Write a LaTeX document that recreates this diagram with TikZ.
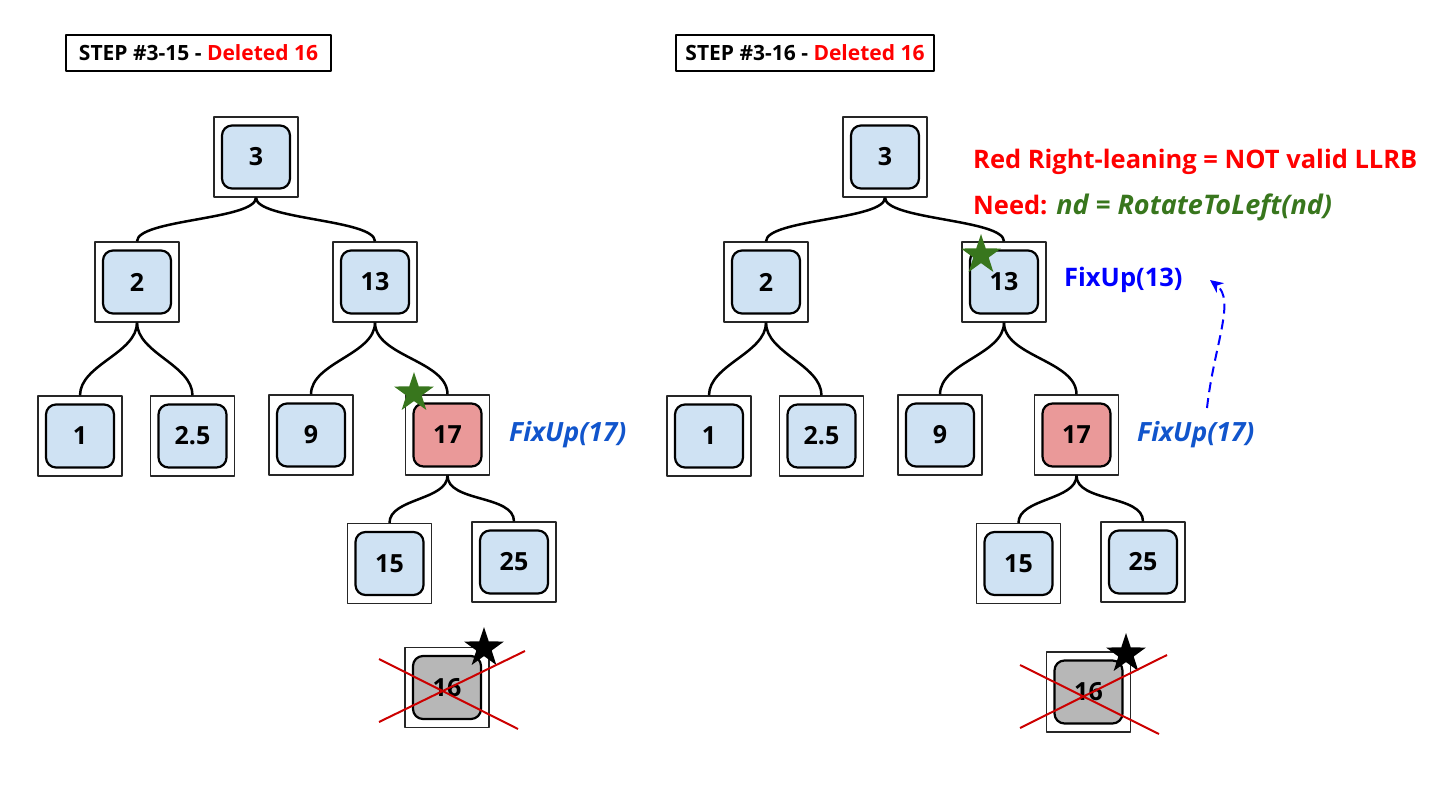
\documentclass[tikz,border=0pt]{standalone}
\usepackage{fontspec}
\setmainfont{Open Sans}
\usetikzlibrary{shapes.geometric,arrows.meta}
\definecolor{keyblue}{HTML}{CFE2F3}
\definecolor{keyred}{HTML}{EA9999}
\definecolor{keygray}{HTML}{B7B7B7}
\definecolor{delred}{HTML}{FF0000}
\definecolor{crossred}{HTML}{CC0000}
\definecolor{fixblue}{HTML}{1155CC}
\definecolor{pureblue}{HTML}{0000FF}
\definecolor{leafgreen}{HTML}{38761D}

\begin{document}
\begin{tikzpicture}[x=1pt, y=1pt, line join=round,
  frame/.style={draw=black!85, line width=1.2pt, minimum width=84pt, minimum height=80pt, inner sep=0pt},
  key/.style={draw, line width=2.2pt, rounded corners=10pt, minimum width=68pt, minimum height=63pt, inner sep=0pt, fill=keyblue, font=\bfseries\fontsize{25}{30}\selectfont},
  titlebox/.style={draw, line width=1.5pt, minimum height=36pt, inner sep=0pt, font=\bfseries\fontsize{21}{25}\selectfont},
  note/.style={anchor=west, inner sep=0pt, font=\bfseries\fontsize{25.5}{30}\selectfont},
  slanted note/.style={note, font=\bfseries\itshape\fontsize{26.5}{30}\selectfont},
  flag/.style={star, star points=5, star point ratio=2.6, inner sep=0pt, minimum size=42pt},
  every edge/.style={draw, line width=2.5pt, out=-90, in=90, looseness=.85}]
\useasboundingbox (0,0) rectangle (1438,-792);

% left tree
\node [titlebox, minimum width=265pt] (ta) at (198.5,-53) {STEP \#3-15 - \textcolor{delred}{Deleted 16}};
\node [frame] (a3) at (256,-157) {};
\node [key] (a3k) at (a3) {3};
\node [frame] (a2) at (137,-282) {};
\node [key] (a2k) at (a2) {2};
\node [frame] (a13) at (375,-282) {};
\node [key] (a13k) at (a13) {13};
\node [frame] (a1) at (80,-436) {};
\node [key] (a1k) at (a1) {1};
\node [frame] (a2p5) at (192.5,-436) {};
\node [key] (a2p5k) at (a2p5) {2.5};
\node [frame] (a9) at (311,-435) {};
\node [key] (a9k) at (a9) {9};
\node [frame] (a17) at (447.5,-435) {};
\node [key, fill=keyred] (a17k) at (a17) {17};
\node [frame] (a15) at (389.5,-563.5) {};
\node [key] (a15k) at (a15) {15};
\node [frame] (a25) at (514,-562) {};
\node [key] (a25k) at (a25) {25};
\node [frame] (a16) at (447,-687.5) {};
\node [key, fill=keygray] (a16k) at (a16) {16};
\node [flag, fill=leafgreen] (sa17) at (414,-393) {};
\node [flag, fill=black] (sa16) at (484,-648) {};
\draw [crossred, line width=2pt] (379,-659) -- (518,-729) (379,-722) -- (525,-651);
\node [slanted note, fixblue] (fa17) at (509,-435) {FixUp(17)};
\path
  (a3.south) edge [looseness=.45] (a2.north)
             edge [looseness=.45] (a13.north)
  (a2.south) edge (a1.north)
             edge (a2p5.north)
  (a13.south) edge (a9.north)
              edge (a17.north)
  (a17.south) edge (a15.north)
              edge (a25.north)
  ;

% right tree
\node [titlebox, minimum width=258pt] (tb) at (805,-53) {STEP \#3-16 - \textcolor{delred}{Deleted 16}};
\node [frame] (b3) at (885,-157) {};
\node [key] (b3k) at (b3) {3};
\node [frame] (b2) at (766,-282) {};
\node [key] (b2k) at (b2) {2};
\node [frame] (b13) at (1004,-282) {};
\node [key] (b13k) at (b13) {13};
\node [frame] (b1) at (709,-436) {};
\node [key] (b1k) at (b1) {1};
\node [frame] (b2p5) at (821.5,-436) {};
\node [key] (b2p5k) at (b2p5) {2.5};
\node [frame] (b9) at (940,-435) {};
\node [key] (b9k) at (b9) {9};
\node [frame] (b17) at (1076.5,-435) {};
\node [key, fill=keyred] (b17k) at (b17) {17};
\node [frame] (b15) at (1018.5,-563.5) {};
\node [key] (b15k) at (b15) {15};
\node [frame] (b25) at (1143,-562) {};
\node [key] (b25k) at (b25) {25};
\node [frame] (b16) at (1088.5,-692) {};
\node [key, fill=keygray] (b16k) at (b16) {16};
\node [flag, fill=leafgreen] (sb13) at (981,-255) {};
\node [flag, fill=black] (sb16) at (1126,-654) {};
\draw [crossred, line width=2pt] (1020,-665) -- (1159,-734) (1020,-728) -- (1167,-655);
\node [note, delred] (rr) at (973,-162) {Red Right-leaning = NOT valid LLRB};
\node [note, delred] (need) at (973,-207) {Need: \textcolor{leafgreen}{\itshape\fontsize{27}{30}\selectfont nd = RotateToLeft(nd)}};
\node [note, pureblue] (fb13) at (1064,-280) {FixUp(13)};
\node [slanted note, fixblue] (fb17) at (1137,-435) {FixUp(17)};
\coordinate (up0) at (1207,-408);
\coordinate (up1) at (1210,-280);
\draw [pureblue, line width=2pt, dash pattern=on 10pt off 6pt, -{Stealth[length=13pt,width=12pt,inset=4pt]}] (up0) .. controls (1214,-345) and (1236,-300) .. (up1);
\path
  (b3.south) edge [looseness=.45] (b2.north)
             edge [looseness=.45] (b13.north)
  (b2.south) edge (b1.north)
             edge (b2p5.north)
  (b13.south) edge (b9.north)
              edge (b17.north)
  (b17.south) edge (b15.north)
              edge (b25.north)
  ;
\end{tikzpicture}
\end{document}
